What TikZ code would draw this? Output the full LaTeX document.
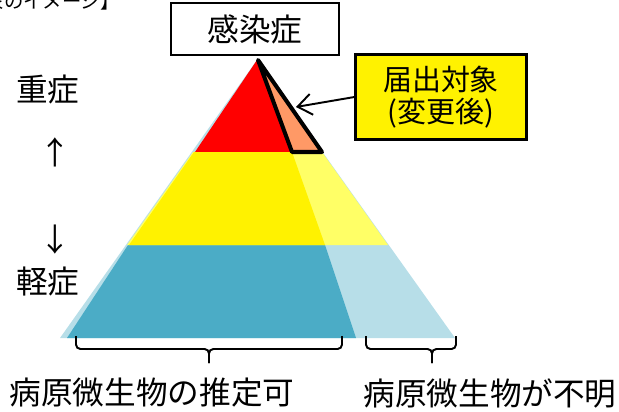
\documentclass[tikz,border=0pt]{standalone}
\usepackage{fontspec}
\setmainfont{Noto Sans CJK JP}
\usetikzlibrary{arrows.meta}
\definecolor{tealband}{HTML}{4BACC6}
\definecolor{paleblue}{HTML}{B7DEE8}
\definecolor{paleyellow}{HTML}{FFFF66}
\definecolor{peach}{HTML}{FF9966}
\tikzset{lbl/.style={font=\fontsize{18}{22}\selectfont,inner sep=0pt},
  brace/.style={line width=1.1pt,rounded corners=2.5pt}}

\begin{document}
\begin{tikzpicture}[x=.02cm,y=-.02cm]
\useasboundingbox (0,0) rectangle (619,412);
\node[anchor=south east,inner sep=0pt,font=\fontsize{11}{13}\selectfont] (title) at (120,11) {【届出対象のイメージ】};
% pyramid
\fill[paleblue] (257,60) -- (60,338) -- (455,338) -- cycle;
\fill[tealband] (128,245) -- (325,245) -- (356,338) -- (67,338) -- cycle;
\fill[paleyellow] (193,152) -- (322,152) -- (388,245) -- (127,245) -- cycle;
\fill[yellow] (194,152) -- (292,152) -- (325,245) -- (129,245) -- cycle;
\fill[red] (257,60) -- (292,152) -- (195,152) -- cycle;
\filldraw[fill=peach,line width=2.3pt,line join=round] (258,60) -- (322,152) -- (292,152) -- cycle;
% labels
\node[draw,thick,lbl,minimum width=3.36cm,minimum height=1.04cm] (disease) at (255,29) {感染症};
\node[draw,line width=1.2pt,fill=yellow,align=center,minimum width=3.42cm,minimum height=1.7cm,
  font=\fontsize{16.5}{18.5}\selectfont] (notice) at (441,97) {届出対象\\(変更後)};
\coordinate (target) at (296,107);
\draw[line width=1.1pt,-{Straight Barb[length=8pt,width=12pt]}] (notice.west) -- (target);
\node[lbl] (severe) at (48,90) {重症};
\node[lbl] (up) at (55,152) {↑};
\node[lbl] (down) at (55,240) {↓};
\node[lbl] (mild) at (48,281) {軽症};
% braces
\draw[brace] (76,336) -- (76,349) -- (209,349) -- (209,363);
\draw[brace] (342,336) -- (342,349) -- (209,349) -- (209,363);
\draw[brace] (366,336) -- (366,349) -- (432,349) -- (432,363);
\draw[brace] (456,336) -- (456,349) -- (432,349) -- (432,363);
\node[lbl] (known) at (152,393) {病原微生物の推定可};
\node[lbl] (unknown) at (490,393) {病原微生物が不明};
\end{tikzpicture}
\end{document}
